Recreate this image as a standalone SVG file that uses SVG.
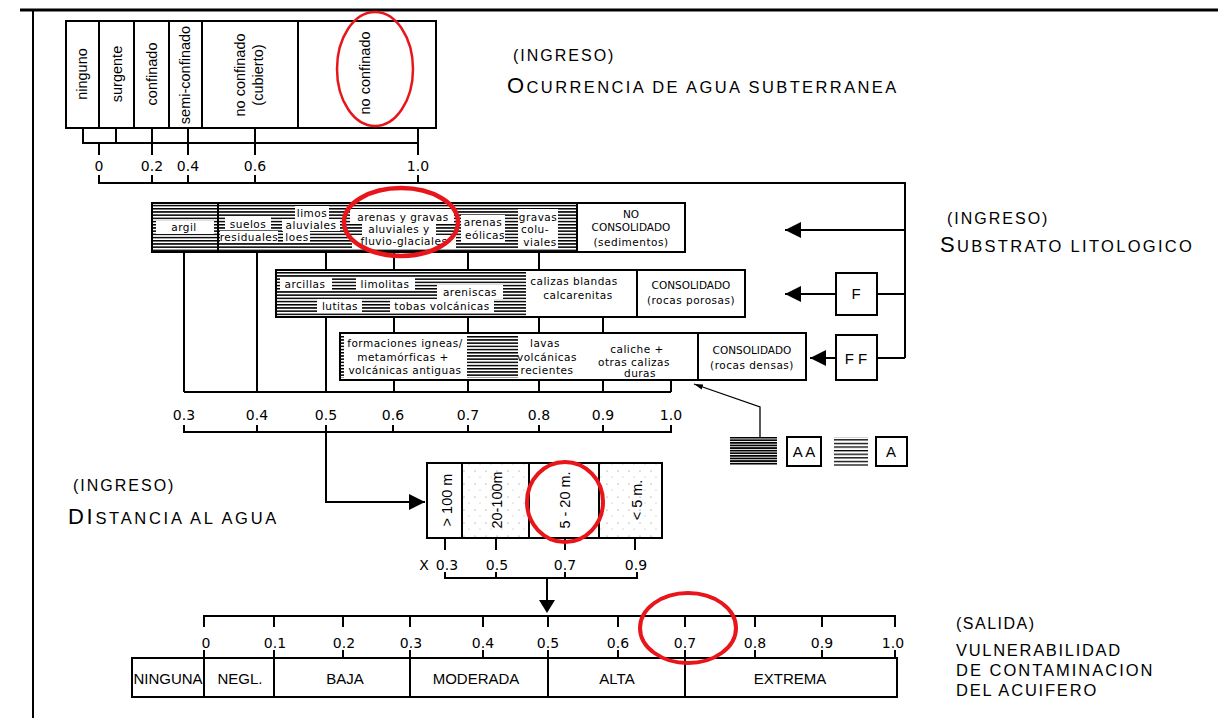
<svg xmlns="http://www.w3.org/2000/svg" width="1218" height="718" viewBox="0 0 1218 718">
<defs>
<style>
.ln{stroke:#000;stroke-width:2;fill:none}
.bx{stroke:#000;stroke-width:2;fill:#fff}
.bxn{stroke:#000;stroke-width:2;fill:none}
.thin{stroke:#000;stroke-width:1.3;fill:none}
.vt{font-family:"Liberation Sans",Arial,sans-serif;font-size:14.5px;fill:#000;text-anchor:middle}
.sc{font-family:"DejaVu Sans",sans-serif;font-size:14px;fill:#000;text-anchor:middle}
.tw{font-family:"DejaVu Sans",sans-serif;font-size:10.5px;fill:#000;text-anchor:middle;letter-spacing:0.5px}
.cap{font-family:"DejaVu Sans",sans-serif;font-size:10.5px;fill:#000;text-anchor:middle}
.out{font-family:"Liberation Sans",Arial,sans-serif;font-size:15px;fill:#000;text-anchor:middle}
.ttl{font-family:"Liberation Sans",Arial,sans-serif;fill:#000}
.wh{fill:#fff}
.red{fill:none;stroke:#e8151b}
</style>
<pattern id="hatch" width="8" height="3.2" patternUnits="userSpaceOnUse"><rect width="8" height="1.5" fill="#000"/></pattern>
<pattern id="hatchD" width="8" height="2.6" patternUnits="userSpaceOnUse"><rect width="8" height="1.7" fill="#000"/></pattern>
<pattern id="hatchL" width="8" height="3.6" patternUnits="userSpaceOnUse"><rect width="8" height="1.3" fill="#000"/></pattern>
<pattern id="dots" width="11" height="13" patternUnits="userSpaceOnUse"><circle cx="2" cy="3" r="0.6" fill="#777"/><circle cx="7" cy="9" r="0.5" fill="#999"/></pattern>
<marker id="ahB" viewBox="0 0 10 10" refX="10" refY="5" markerWidth="8" markerHeight="8" orient="auto"><path d="M0,0 L10,5 L0,10 z" fill="#000"/></marker>
<marker id="ahS" viewBox="0 0 10 10" refX="10" refY="5" markerWidth="7" markerHeight="7" orient="auto"><path d="M0,2 L10,5 L0,8 z" fill="#000"/></marker>
</defs>
<rect width="1218" height="718" fill="#fff"/>
<g id="frame">
<line x1="20" y1="10" x2="1218" y2="10" stroke="#000" stroke-width="3"/>
<line x1="33" y1="10" x2="33" y2="718" stroke="#000" stroke-width="2"/>
</g>

<g id="connectors">
<path class="ln" d="M83,128V143H418M116,128V143M99,143V155M152,128V155M188,128V155M255,128V155M418,128V155"/>
<path class="ln" d="M99,175V183H905V358M152,175V183M188,175V183M255,175V183M418,175V183"/>
<line class="ln" x1="905" y1="230" x2="785" y2="230" marker-end="url(#ahB)"/>
<line class="ln" x1="877" y1="294" x2="905" y2="294"/>
<line class="ln" x1="836" y1="294" x2="785" y2="294" marker-end="url(#ahB)"/>
<line class="ln" x1="877" y1="358" x2="905" y2="358"/>
<line class="ln" x1="836" y1="358" x2="810" y2="358" marker-end="url(#ahB)"/>
<path class="ln" d="M184,252V392M257,252V392M326,252V270M326,317V392M394,252V270M394,317V333M394,380V392M468,252V270M468,317V333M468,380V392M539,252V270M539,317V333M539,380V392M603,317V333M603,380V392M671,380V392"/>
<path class="ln" d="M184,392H671"/>
<path class="ln" d="M184,425V432H671V425M257,425V432M326,425V432M393,425V432M468,425V432M539,425V432M603,425V432"/>
<path class="ln" d="M326,432V502H425" marker-end="url(#ahB)"/>
<path class="thin" d="M760,437V407L694,384" marker-end="url(#ahS)"/>
<path class="ln" d="M445,538V550M496,538V550M565,538V550M635,538V550"/>
<path class="ln" d="M445,572V578H637V572M496,572V578M565,572V578M547,578V603"/>
<path d="M539,600L555,600L547,613z" fill="#000"/>
<path class="ln" d="M204,627V616H895V627M274,616V627M343,616V627M410,616V627M483,616V627M548,616V627M618,616V627M685,616V627M755,616V627M822,616V627"/>
<path class="ln" d="M204,650V658M274,650V658M343,650V658M410,650V658M483,650V658M548,650V658M618,650V658M685,650V658M755,650V658M822,650V658M895,650V658"/>
</g>

<g id="ocurrencia-box">
<rect class="bx" x="66" y="21" width="370" height="107"/>
<path class="ln" d="M99,21V128M134,21V128M169,21V128M202,21V128M298,21V128"/>
<text class="vt" transform="translate(87,74) rotate(-90)">ninguno</text>
<text class="vt" transform="translate(122,74) rotate(-90)">surgente</text>
<text class="vt" transform="translate(157,74) rotate(-90)">confinado</text>
<text class="vt" transform="translate(190,75) rotate(-90)">semi-confinado</text>
<text class="vt" transform="translate(245,75) rotate(-90)">no confinado</text>
<text class="vt" transform="translate(263,75) rotate(-90)">(cubierto)</text>
<text class="vt" transform="translate(370,73) rotate(-90)">no confinado</text>
</g>
<g id="ocurrencia-scale">
<text class="sc" x="99" y="171">0</text>
<text class="sc" x="152" y="171">0.2</text>
<text class="sc" x="188" y="171">0.4</text>
<text class="sc" x="255" y="171">0.6</text>
<text class="sc" x="418" y="171">1.0</text>
</g>

<g id="title-ocurrencia">
<text class="ttl" x="513" y="61" style="font-size:16px;letter-spacing:2px">(INGRESO)</text>
<text class="ttl" x="507" y="93" style="font-size:16.5px;letter-spacing:2.4px"><tspan style="font-size:22px">O</tspan>CURRENCIA DE AGUA SUBTERRANEA</text>
</g>
<g id="title-substrato">
<text class="ttl" x="947" y="224" style="font-size:16px;letter-spacing:2px">(INGRESO)</text>
<text class="ttl" x="940" y="252" style="font-size:16.5px;letter-spacing:2.3px"><tspan style="font-size:22px">S</tspan>UBSTRATO LITOLOGICO</text>
</g>
<g id="title-distancia">
<text class="ttl" x="73" y="491" style="font-size:16px;letter-spacing:2px">(INGRESO)</text>
<text class="ttl" x="68" y="524" style="font-size:16.5px;letter-spacing:2.7px"><tspan style="font-size:22px">DI</tspan>STANCIA AL AGUA</text>
</g>
<g id="title-salida">
<text class="ttl" x="956" y="629" style="font-size:16px;letter-spacing:1.5px">(SALIDA)</text>
<text class="ttl" x="956" y="656" style="font-size:16.5px;letter-spacing:1.7px">VULNERABILIDAD</text>
<text class="ttl" x="956" y="676" style="font-size:16.5px;letter-spacing:2px">DE CONTAMINACION</text>
<text class="ttl" x="956" y="696" style="font-size:16.5px;letter-spacing:1.8px">DEL ACUIFERO</text>
</g>

<g id="no-consolidado">
<rect x="152" y="203" width="425" height="49" fill="url(#hatch)"/>
<rect class="wh" x="156" y="221" width="58" height="13"/>
<rect class="wh" x="225" y="217" width="46" height="13"/>
<rect class="wh" x="220" y="231" width="58" height="12"/>
<rect class="wh" x="283" y="231" width="27" height="12"/>
<rect class="wh" x="295" y="206" width="34" height="13"/>
<rect class="wh" x="282" y="219" width="58" height="12"/>
<rect class="wh" x="350" y="209" width="104" height="14"/>
<rect class="wh" x="362" y="223" width="74" height="12"/>
<rect class="wh" x="352" y="235" width="104" height="13"/>
<rect class="wh" x="461" y="215" width="44" height="28"/>
<rect class="wh" x="518" y="209" width="40" height="40"/>
<rect class="bxn" x="152" y="203" width="533" height="49"/>
<path class="ln" d="M218,203V252M577,203V252"/>
<text class="tw" x="184" y="231">argil</text>
<text class="tw" x="248" y="228">suelos</text>
<text class="tw" x="249" y="241">residuales</text>
<text class="tw" x="297" y="241">loes</text>
<text class="tw" x="312" y="217">limos</text>
<text class="tw" x="311" y="229">aluviales</text>
<text class="tw" x="403" y="221">arenas y gravas</text>
<text class="tw" x="399" y="233">aluviales y</text>
<text class="tw" x="404" y="245">fluvio-glaciales</text>
<text class="tw" x="483" y="226">arenas</text>
<text class="tw" x="485" y="239">eólicas</text>
<text class="tw" x="538" y="221">gravas</text>
<text class="tw" x="535" y="233">colu-</text>
<text class="tw" x="540" y="246">viales</text>
<text class="cap" x="631" y="218">NO</text>
<text class="cap" x="631" y="231">CONSOLIDADO</text>
<text class="tw" x="631" y="246">(sedimentos)</text>
</g>

<g id="consolidado-porosas">
<rect x="276" y="270" width="250" height="47" fill="url(#hatch)"/>
<rect class="wh" x="280" y="277" width="52" height="14"/>
<rect class="wh" x="356" y="277" width="59" height="14"/>
<rect class="wh" x="437" y="285" width="66" height="14"/>
<rect class="wh" x="317" y="299" width="45" height="14"/>
<rect class="wh" x="390" y="299" width="104" height="14"/>
<rect class="bxn" x="276" y="270" width="469" height="47"/>
<path class="ln" d="M637,270V317"/>
<text class="tw" x="305" y="288">arcillas</text>
<text class="tw" x="385" y="288">limolitas</text>
<text class="tw" x="470" y="296">areniscas</text>
<text class="tw" x="340" y="310">lutitas</text>
<text class="tw" x="442" y="310">tobas volcánicas</text>
<text class="tw" x="574" y="285">calizas blandas</text>
<text class="tw" x="578" y="299">calcarenitas</text>
<text class="cap" x="691" y="289">CONSOLIDADO</text>
<text class="tw" x="691" y="304">(rocas porosas)</text>
</g>

<g id="consolidado-densas">
<rect class="bx" x="340" y="333" width="466" height="47"/>
<rect x="467" y="335" width="51" height="43" fill="url(#hatch)"/>
<rect x="341" y="335" width="3" height="43" fill="url(#hatch)"/>
<path class="ln" d="M698,333V380"/>
<text class="tw" x="405" y="347">formaciones igneas/</text>
<text class="tw" x="403" y="361">metamórficas +</text>
<text class="tw" x="405" y="374">volcánicas antiguas</text>
<text class="tw" x="545" y="347">lavas</text>
<text class="tw" x="547" y="361">volcánicas</text>
<text class="tw" x="547" y="374">recientes</text>
<text class="tw" x="637" y="353">caliche +</text>
<text class="tw" x="634" y="366">otras calizas</text>
<text class="tw" x="640" y="377">duras</text>
<text class="cap" x="752" y="354">CONSOLIDADO</text>
<text class="tw" x="752" y="369">(rocas densas)</text>
</g>

<g id="box-F">
<rect class="bx" x="836" y="273" width="41" height="42"/>
<text class="out" x="856" y="299">F</text>
</g>
<g id="box-FF">
<rect class="bx" x="836" y="335" width="41" height="45"/>
<text class="out" x="856" y="364">F F</text>
</g>

<g id="substrato-scale">
<text class="sc" x="184" y="420">0.3</text>
<text class="sc" x="257" y="420">0.4</text>
<text class="sc" x="326" y="420">0.5</text>
<text class="sc" x="393" y="420">0.6</text>
<text class="sc" x="468" y="420">0.7</text>
<text class="sc" x="539" y="420">0.8</text>
<text class="sc" x="603" y="420">0.9</text>
<text class="sc" x="671" y="420">1.0</text>
</g>

<g id="legend">
<rect x="730" y="437" width="47" height="28" fill="url(#hatchD)"/>
<rect class="bx" x="787" y="437" width="34" height="29"/>
<text class="out" x="804" y="457">A A</text>
<rect x="834" y="437" width="34" height="29" fill="url(#hatchL)"/>
<rect class="bx" x="876" y="437" width="31" height="29"/>
<text class="out" x="891" y="457">A</text>
</g>

<g id="distancia-box">
<rect class="bx" x="427" y="463" width="235" height="75"/>
<rect x="463" y="464" width="65" height="73" fill="url(#dots)"/>
<rect x="600" y="464" width="61" height="73" fill="url(#dots)"/>
<path class="ln" d="M462,463V538M529,463V538M599,463V538"/>
<text class="vt" transform="translate(452,500) rotate(-90)">&gt; 100 m</text>
<text class="vt" transform="translate(502,500) rotate(-90)">20-100m</text>
<text class="vt" transform="translate(570,500) rotate(-90)">5 - 20 m.</text>
<text class="vt" transform="translate(642,500) rotate(-90)">&lt; 5 m.</text>
</g>
<g id="distancia-scale">
<text class="sc" x="424" y="570">X</text>
<text class="sc" x="447" y="570">0.3</text>
<text class="sc" x="497" y="570">0.5</text>
<text class="sc" x="565" y="570">0.7</text>
<text class="sc" x="636" y="570">0.9</text>
</g>

<g id="salida-scale">
<text class="sc" x="206" y="648">0</text>
<text class="sc" x="275" y="648">0.1</text>
<text class="sc" x="344" y="648">0.2</text>
<text class="sc" x="411" y="648">0.3</text>
<text class="sc" x="483" y="648">0.4</text>
<text class="sc" x="548" y="648">0.5</text>
<text class="sc" x="618" y="648">0.6</text>
<text class="sc" x="685" y="648">0.7</text>
<text class="sc" x="755" y="648">0.8</text>
<text class="sc" x="822" y="648">0.9</text>
<text class="sc" x="893" y="648">1.0</text>
</g>
<g id="salida-box">
<rect class="bx" x="132" y="658" width="765" height="39"/>
<path class="ln" d="M204,658V697M274,658V697M410,658V697M548,658V697M685,658V697"/>
<text class="out" x="168" y="684">NINGUNA</text>
<text class="out" x="240" y="684">NEGL.</text>
<text class="out" x="345" y="684">BAJA</text>
<text class="out" x="476" y="684">MODERADA</text>
<text class="out" x="617" y="684">ALTA</text>
<text class="out" x="790" y="684">EXTREMA</text>
</g>

<g id="red-annotations">
<ellipse class="red" cx="375" cy="69" rx="38" ry="57" stroke-width="2.5"/>
<ellipse class="red" cx="401" cy="222" rx="57" ry="34" stroke-width="4.5"/>
<ellipse class="red" cx="565" cy="502" rx="38" ry="40" stroke-width="4"/>
<ellipse class="red" cx="688" cy="628" rx="48" ry="35" stroke-width="4"/>
</g>
</svg>
